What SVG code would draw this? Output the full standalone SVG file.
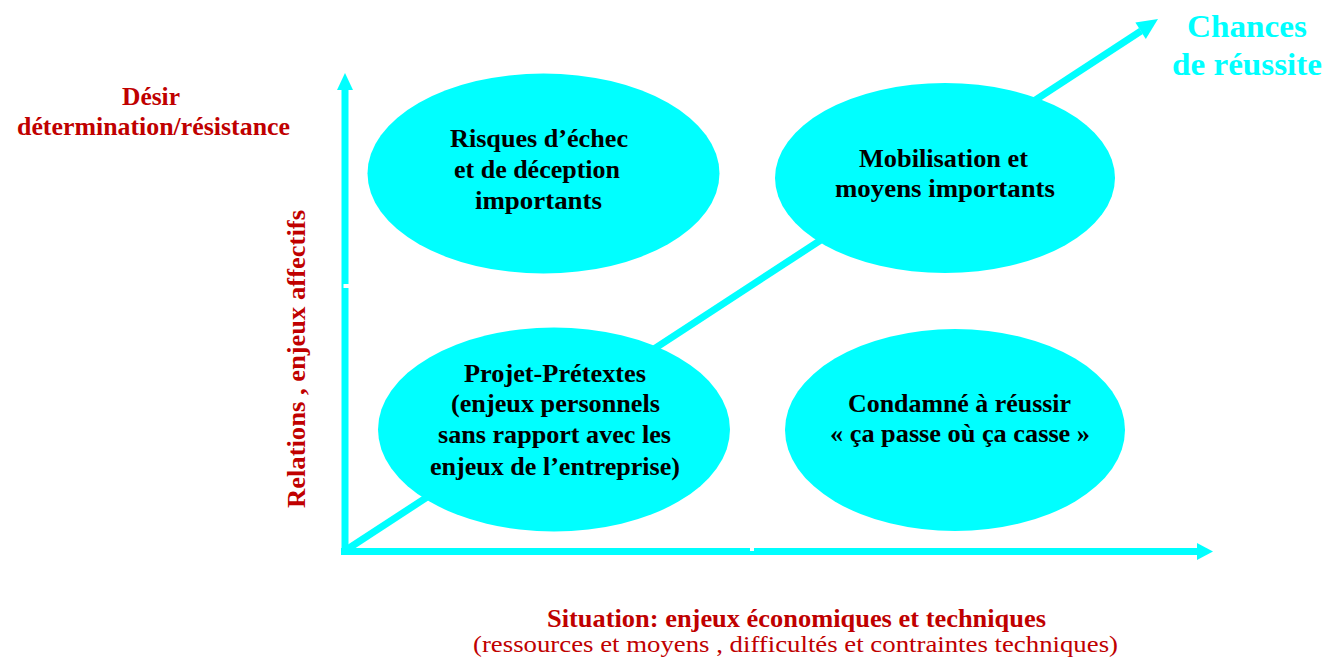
<svg xmlns="http://www.w3.org/2000/svg" width="1339" height="662" viewBox="0 0 1339 662">
<style>
.ax{stroke:#00FFFF;stroke-width:7;fill:none}
.head{fill:#00FFFF}
.node{fill:#00FFFF}
.t{font-family:"Liberation Serif","Times New Roman",serif;font-weight:bold;font-size:26px;fill:#000}
.r{font-family:"Liberation Serif","Times New Roman",serif;font-weight:bold;font-size:26px;fill:#C00000}
.rn{font-family:"Liberation Serif","Times New Roman",serif;font-size:23px;fill:#C00000}
.c{font-family:"Liberation Serif","Times New Roman",serif;font-weight:bold;font-size:32px;fill:#00FFFF}
</style>
<rect width="1339" height="662" fill="#fff"/>
<g id="connectors">
  <line class="ax" x1="345" y1="554" x2="345" y2="88"/>
  <polygon class="head" points="345,73 353,90 337,90"/>
  <rect x="343.5" y="284" width="6" height="4" fill="#fff"/>
  <line class="ax" x1="341" y1="551.5" x2="1199" y2="551.5"/>
  <polygon class="head" points="1213,551.5 1197,543 1197,560"/>
  <rect x="750" y="546" width="4" height="5" fill="#fff"/>
  <line class="ax" x1="343" y1="552" x2="1141" y2="31"/>
  <polygon class="head" points="1158,19 1135.4,22.5 1145.8,39"/>
</g>
<g id="node-risques">
  <ellipse class="node" cx="543.5" cy="173.5" rx="176" ry="100"/>
  <text class="t" x="450" y="147" textLength="178" lengthAdjust="spacingAndGlyphs">Risques d’échec</text>
  <text class="t" x="454" y="178" textLength="166" lengthAdjust="spacingAndGlyphs">et de déception</text>
  <text class="t" x="475" y="209" textLength="127" lengthAdjust="spacingAndGlyphs">importants</text>
</g>
<g id="node-mobilisation">
  <ellipse class="node" cx="945" cy="178" rx="170" ry="95"/>
  <text class="t" x="859" y="167" textLength="169" lengthAdjust="spacingAndGlyphs">Mobilisation et</text>
  <text class="t" x="835" y="197" textLength="220" lengthAdjust="spacingAndGlyphs">moyens importants</text>
</g>
<g id="node-projet">
  <ellipse class="node" cx="554" cy="429.5" rx="176" ry="102"/>
  <text class="t" x="464" y="382" textLength="182" lengthAdjust="spacingAndGlyphs">Projet-Prétextes</text>
  <text class="t" x="451" y="412" textLength="209" lengthAdjust="spacingAndGlyphs">(enjeux personnels</text>
  <text class="t" x="438" y="443" textLength="233" lengthAdjust="spacingAndGlyphs">sans rapport avec les</text>
  <text class="t" x="430" y="475" textLength="250" lengthAdjust="spacingAndGlyphs">enjeux de l’entreprise)</text>
</g>
<g id="node-condamne">
  <ellipse class="node" cx="955" cy="430" rx="170" ry="101"/>
  <text class="t" x="848" y="412" textLength="223" lengthAdjust="spacingAndGlyphs">Condamné à réussir</text>
  <text class="t" x="830" y="442" textLength="260" lengthAdjust="spacingAndGlyphs">« ça passe où ça casse »</text>
</g>
<g id="label-y-top">
  <text class="r" x="122" y="105" textLength="58" lengthAdjust="spacingAndGlyphs">Désir</text>
  <text class="r" x="17" y="135" textLength="273" lengthAdjust="spacingAndGlyphs">détermination/résistance</text>
</g>
<g id="label-y-side">
  <text class="r" transform="translate(305,508) rotate(-90)" x="0" y="0" textLength="298" lengthAdjust="spacingAndGlyphs">Relations , enjeux affectifs</text>
</g>
<g id="label-x">
  <text class="r" x="547" y="627" textLength="499" lengthAdjust="spacingAndGlyphs">Situation: enjeux économiques et techniques</text>
  <text class="rn" x="473" y="652" textLength="645" lengthAdjust="spacingAndGlyphs">(ressources et moyens , difficultés et contraintes techniques)</text>
</g>
<g id="label-diag">
  <text class="c" x="1187" y="37" textLength="120" lengthAdjust="spacingAndGlyphs">Chances</text>
  <text class="c" x="1172" y="75" textLength="150" lengthAdjust="spacingAndGlyphs">de réussite</text>
</g>
</svg>
